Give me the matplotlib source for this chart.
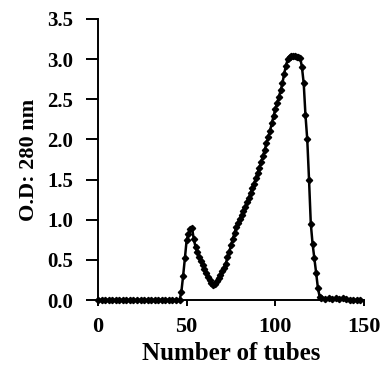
import numpy as np
import matplotlib
matplotlib.use("Agg")
from matplotlib import pyplot as plt

# tube number vs absorbance at 280 nm
tubes_pre = [0, 2, 4, 6, 8, 10, 12, 14, 16, 18, 20, 22, 24, 26, 28, 30,
             32, 34, 36, 38, 40, 42, 44, 46]
od_pre = [0.0, 0.0, 0.0, 0.0, 0.0, 0.0, 0.0, 0.0, 0.0, 0.0, 0.0, 0.0,
          0.0, 0.0, 0.0, 0.0, 0.0, 0.0, 0.0, 0.0, 0.0, 0.0, 0.0, 0.0]

tubes_peak = list(range(47, 127))
od_peak = [0.10, 0.30, 0.52, 0.75, 0.82, 0.88, 0.90, 0.76, 0.66, 0.60,
           0.54, 0.48, 0.43, 0.39, 0.34, 0.29, 0.25, 0.21, 0.19, 0.20,
           0.24, 0.28, 0.31, 0.36, 0.40, 0.45, 0.53, 0.60, 0.68, 0.76,
           0.84, 0.91, 0.96, 1.01, 1.06, 1.11, 1.16, 1.22, 1.27, 1.33,
           1.39, 1.45, 1.52, 1.58, 1.65, 1.72, 1.79, 1.87, 1.95, 2.03,
           2.11, 2.20, 2.29, 2.38, 2.45, 2.53, 2.61, 2.70, 2.82, 2.92,
           3.00, 3.03, 3.04, 3.04, 3.04, 3.03, 3.03, 3.02, 2.90, 2.70,
           2.30, 2.00, 1.50, 0.95, 0.70, 0.52, 0.34, 0.15, 0.04, 0.02]

tubes_post = [128, 130, 132, 134, 136, 138, 140, 142, 144, 146, 148]
od_post = [0.01, 0.02, 0.01, 0.02, 0.01, 0.02, 0.01, 0.0, 0.0, 0.0, 0.0]

x_ticks = [0, 50, 100, 150]
y_ticks = [0.0, 0.5, 1.0, 1.5, 2.0, 2.5, 3.0, 3.5]

x = tubes_pre + tubes_peak + tubes_post
y = od_pre + od_peak + od_post

plt.rcParams['font.family'] = ['Liberation Serif', 'DejaVu Serif']
plt.rcParams['font.weight'] = 'bold'

fig = plt.figure(figsize=(3.82, 3.65), dpi=100, facecolor="white")
ax = fig.add_axes([98 / 382, 1 - 300 / 365, 266 / 382, 281 / 365])

ax.plot(x, y, color="black", linewidth=1.8, marker="D", markersize=3.2,
        clip_on=False)

ax.set_xlim(0, 150)
ax.set_ylim(0, 3.5)
ax.set_xticks(x_ticks)
ax.set_yticks(y_ticks)
ax.set_yticklabels(["%.1f" % v for v in y_ticks])

for s in ("top", "right"):
    ax.spines[s].set_visible(False)
for s in ("left", "bottom"):
    ax.spines[s].set_linewidth(1.4)

ax.tick_params(axis="y", direction="out", length=9, width=1.4, pad=9,
               labelsize=15)
ax.tick_params(axis="x", direction="out", length=4, width=1.4, pad=8,
               labelsize=16)

ax.set_xlabel("Number of tubes", fontsize=18, fontweight="bold", labelpad=4)
ax.set_ylabel("O.D: 280 nm", fontsize=16, fontweight="bold", labelpad=6)

plt.savefig("out.png", dpi=100)
plt.close()
